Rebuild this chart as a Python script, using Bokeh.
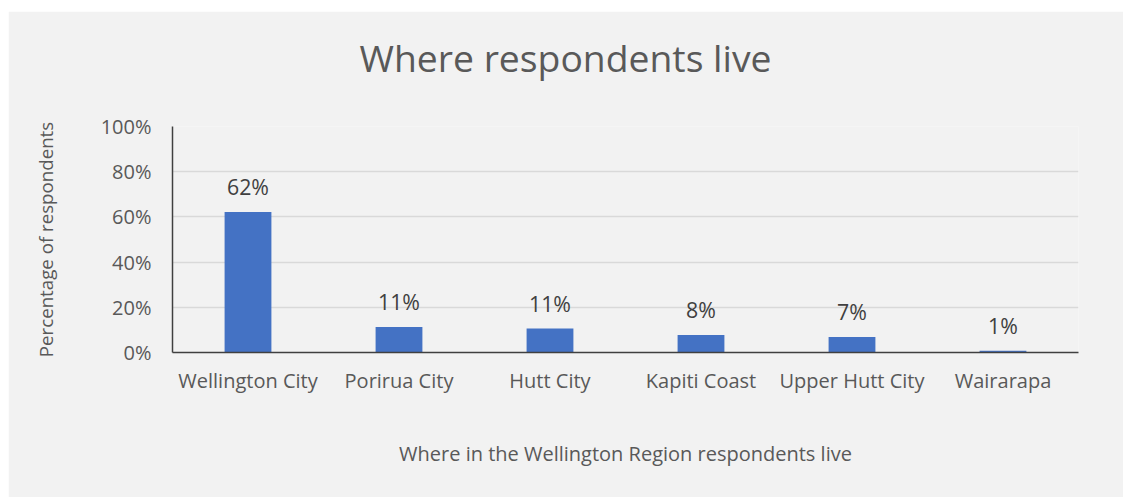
from bokeh.plotting import figure
from bokeh.models import ColumnDataSource, FactorRange, Range1d, FixedTicker, PrintfTickFormatter, LabelSet, Spacer, Title
from bokeh.layouts import column, row
from bokeh.core.properties import value
from bokeh.embed import file_html
from bokeh.resources import INLINE

# ---- data ----
regions = ["Wellington City", "Porirua City", "Hutt City", "Kapiti Coast", "Upper Hutt City", "Wairarapa"]
percent = [62.2, 11.3, 10.6, 7.7, 6.9, 0.8]
labels = ["62%", "11%", "11%", "8%", "7%", "1%"]
y_ticks = [0, 20, 40, 60, 80, 100]
title_text = "Where respondents live"
x_title = "Where in the Wellington Region respondents live"
y_title = "Percentage of respondents"

TEXT = "#595959"
FONT = "Open Sans"
BG = "#f2f2f2"

src = ColumnDataSource(dict(region=regions, pct=percent, lab=labels))

p = figure(
    width=1115, height=486,
    x_range=FactorRange(*regions, range_padding=0),
    y_range=Range1d(0, 100),
    output_backend="svg", toolbar_location=None,
    background_fill_color=BG, border_fill_color=BG,
    min_border_left=164, min_border_right=45, min_border_top=115, min_border_bottom=145,
    title=title_text,
)
p.outline_line_color = None

p.vbar(x="region", top="pct", width=0.31, source=src, color="#4472C4", line_color=None)

lbl = LabelSet(x="region", y="pct", text="lab", source=src, text_align="center",
               text_baseline="alphabetic", y_offset=17, text_font=value(FONT),
               text_font_size="21.3px", text_color="#404040")
p.add_layout(lbl)

# gap between the chart title and the plot frame
p.add_layout(Title(text=" ", text_font_size="1px", standoff=39), "above")

# title
p.title.text_font = FONT
p.title.text_font_size = "37.3px"
p.title.text_font_style = "normal"
p.title.text_color = TEXT
p.title.align = "left"
p.title.offset = 187
p.title.vertical_align = "top"
p.title.standoff = 0

# y axis
ya = p.yaxis[0]
ya.ticker = FixedTicker(ticks=y_ticks)
ya.formatter = PrintfTickFormatter(format="%d%%")
ya.major_tick_out = 0
ya.major_tick_in = 0
ya.minor_tick_out = 0
ya.minor_tick_in = 0
ya.major_label_standoff = 21
ya.axis_line_color = "#404040"
ya.axis_line_width = 1.5
ya.major_label_text_font = FONT
ya.major_label_text_font_size = "20px"
ya.major_label_text_color = TEXT
ya.axis_label = y_title
ya.axis_label_text_font = FONT
ya.axis_label_text_font_size = "18.7px"
ya.axis_label_text_font_style = "normal"
ya.axis_label_text_color = TEXT
ya.axis_label_standoff = 40

# x axis
xa = p.xaxis[0]
xa.major_tick_out = 0
xa.major_tick_in = 0
xa.major_label_standoff = 14
xa.axis_line_color = "#404040"
xa.axis_line_width = 1.5
xa.major_label_text_font = FONT
xa.major_label_text_font_size = "20px"
xa.major_label_text_color = TEXT
xa.axis_label = x_title
xa.axis_label_text_font = FONT
xa.axis_label_text_font_size = "20px"
xa.axis_label_text_font_style = "normal"
xa.axis_label_text_color = TEXT
xa.axis_label_standoff = 43

p.xgrid.grid_line_color = None
p.ygrid.ticker = FixedTicker(ticks=y_ticks)
p.ygrid.grid_line_color = "#d9d9d9"
p.ygrid.grid_line_width = 1.3

layout = row(Spacer(width=8), column(Spacer(height=11), p, spacing=0), spacing=0)
open("out.html", "w").write(file_html(layout, INLINE))
